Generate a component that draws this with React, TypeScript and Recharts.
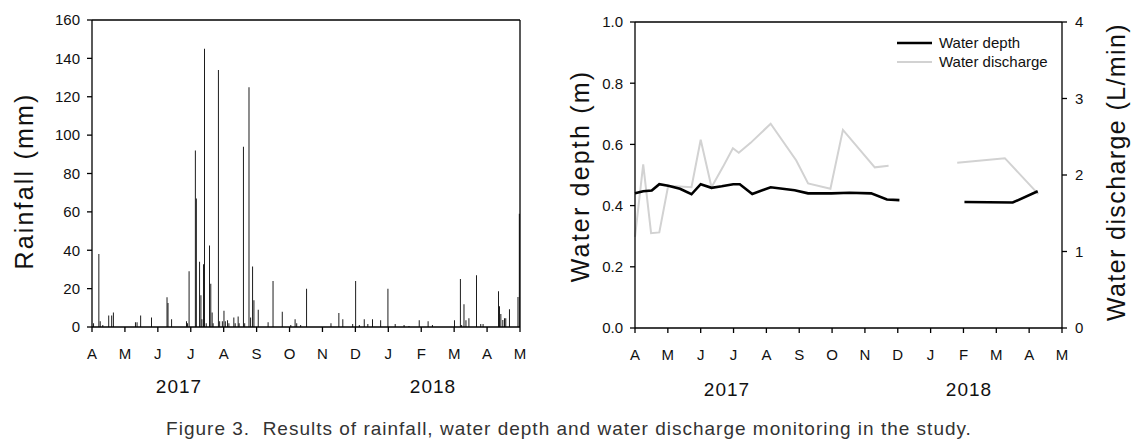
import React from 'react';
import {
  BarChart,
  Bar,
  LineChart,
  Line,
  XAxis,
  YAxis,
  ReferenceLine,
} from 'recharts';

// month index since Apr 2017 (fractional = day within month)
const monthLetters = ['A', 'M', 'J', 'J', 'A', 'S', 'O', 'N', 'D', 'J', 'F', 'M', 'A', 'M'];
const monthTicks = [0, 1, 2, 3, 4, 5, 6, 7, 8, 9, 10, 11, 12, 13];

// daily rainfall events
const rainMonth = [
  0.05, 0.21, 0.25, 0.33, 0.51, 0.6, 0.65, 1.32, 1.37, 1.48, 1.81, 2.28, 2.31, 2.42, 2.87, 2.9,
  2.95, 3.14, 3.17, 3.27, 3.31, 3.34, 3.39, 3.42, 3.47, 3.57, 3.61, 3.65, 3.68, 3.84, 3.88, 3.96,
  4.01, 4.05, 4.12, 4.16, 4.31, 4.35, 4.44, 4.47, 4.6, 4.64, 4.77, 4.82, 4.88, 4.92, 5.05, 5.35,
  5.5, 5.78, 6.04, 6.17, 6.22, 6.34, 6.52, 7.26, 7.5, 7.62, 7.92, 8.01, 8.12, 8.27, 8.38, 8.52,
  8.77, 8.99, 9.21, 9.48, 9.63, 9.94, 10.21, 10.34, 11.01, 11.19, 11.23, 11.3, 11.36, 11.45,
  11.68, 11.81, 11.88, 12.35, 12.38, 12.42, 12.48, 12.53, 12.57, 12.68, 12.94, 12.98,
];
const rainMm = [
  2, 38, 3, 1, 6, 6, 7.5, 2.5, 2.5, 6, 5, 15.5, 12.5, 4, 3, 2,
  29, 92, 67, 34, 16.5, 4, 32.7, 145, 2, 42.5, 22.5, 7.5, 2, 134, 3, 3,
  8.5, 3, 3.5, 2, 5, 2, 5.5, 2, 94, 2, 125, 5, 31.5, 14, 9, 2.5,
  24, 8, 1, 4, 2, 1, 20, 2, 7.3, 4, 1.5, 24, 1, 4, 1.5, 4,
  3.5, 20, 1.5, 1, 0.5, 3.5, 3, 1, 3.5, 25, 1, 11.8, 3.5, 4.5,
  27, 1.5, 1.5, 18.6, 10.8, 6.8, 3.7, 4.5, 4.5, 9.2, 15.6, 59,
];

// water depth (m)
const depthMonth = [
  0, 0.25, 0.51, 0.74, 1.01, 1.37, 1.72, 2.0, 2.33, 2.64, 2.99, 3.19, 3.57, 4.13, 4.86, 5.27,
  5.98, 6.53, 7.19, 7.67, 8.05, 9.0, 10.03, 11.5, 12.26,
];
const depthM = [
  0.44, 0.447, 0.449, 0.47, 0.465, 0.455, 0.437, 0.47, 0.458, 0.463, 0.47, 0.47, 0.438, 0.46,
  0.45, 0.44, 0.44, 0.442, 0.44, 0.42, 0.418, null, 0.412, 0.41, 0.447,
];

// water discharge (L/min)
const dischargeMonth = [
  0, 0.25, 0.49, 0.74, 1.01, 1.72, 2.0, 2.33, 2.67, 2.98, 3.16, 3.52, 4.13, 4.91, 5.27, 5.95,
  6.33, 7.3, 7.72, 9.0, 9.81, 11.26, 12.28,
];
const dischargeLmin = [
  1.19, 2.14, 1.24, 1.25, 1.86, 1.84, 2.46, 1.84, 2.1, 2.35, 2.29, 2.42, 2.67, 2.19, 1.89, 1.82,
  2.59, 2.1, 2.12, null, 2.16, 2.22, 1.75,
];

const rainData = rainMonth.map((m, i) => ({ m, rain: rainMm[i] }));
const depthData = depthMonth.map((m, i) => ({ m, depth: depthM[i] }));
const dischargeData = dischargeMonth.map((m, i) => ({ m, discharge: dischargeLmin[i] }));

const FONT = '"Liberation Sans", Arial, sans-serif';
const tickStyle = { fontSize: 15, fill: '#111', fontFamily: FONT };
const axisLine = { stroke: '#000', strokeWidth: 1.3 };

const legendItems = [
  { label: 'Water depth', color: '#000', width: 2.6 },
  { label: 'Water discharge', color: '#d2d2d2', width: 2 },
];

// legend sits inside the right plot, outside recharts so it does not shrink the plot
const LegendBox = () => (
  <div
    style={{
      position: 'absolute',
      left: 897,
      top: 33,
      fontFamily: FONT,
      fontSize: 15,
      color: '#111',
      lineHeight: '19px',
    }}
  >
    {legendItems.map((it) => (
      <div key={it.label} style={{ display: 'flex', alignItems: 'center' }}>
        <svg width={42} height={19}>
          <line x1={0} x2={35} y1={10} y2={10} stroke={it.color} strokeWidth={it.width} />
        </svg>
        <span>{it.label}</span>
      </div>
    ))}
  </div>
);

const abs = (extra: React.CSSProperties): React.CSSProperties => ({
  position: 'absolute',
  fontFamily: FONT,
  color: '#111',
  whiteSpace: 'pre',
  lineHeight: 1,
  ...extra,
});

const vLabel = (text: string, cx: number, cy: number, size: number, spacing: number) => (
  <div
    style={abs({
      left: cx,
      top: cy,
      fontSize: size,
      letterSpacing: spacing,
      transform: 'translate(-50%, -50%) rotate(-90deg)',
    })}
  >
    {text}
  </div>
);

const hLabel = (text: string, cx: number, cy: number, size: number, spacing: number, color = '#111') => (
  <div
    style={abs({
      left: cx,
      top: cy,
      fontSize: size,
      letterSpacing: spacing,
      color,
      transform: 'translate(-50%, -50%)',
    })}
  >
    {text}
  </div>
);

export default function App() {
  return (
    <div style={{ position: 'absolute', left: 0, top: 0, width: 1146, height: 445, background: '#fff' }}>
      <div style={{ position: 'absolute', left: 0, top: 0 }}>
        <BarChart width={560} height={400} data={rainData} margin={{ top: 20, right: 40, left: 32, bottom: 43 }}>
          <XAxis
            dataKey="m"
            type="number"
            domain={[0, 13]}
            ticks={monthTicks}
            tickFormatter={(v: number) => monthLetters[v]}
            tick={tickStyle}
            axisLine={axisLine}
            tickLine={axisLine}
            tickSize={5}
            tickMargin={16}
            height={30}
            interval={0}
          />
          <YAxis
            domain={[0, 160]}
            ticks={[0, 20, 40, 60, 80, 100, 120, 140, 160]}
            tick={tickStyle}
            axisLine={axisLine}
            tickLine={axisLine}
            tickSize={5}
            tickMargin={7}
            width={60}
            interval={0}
          />
          <ReferenceLine y={160} stroke="#000" strokeWidth={1.3} />
          <ReferenceLine x={13} stroke="#000" strokeWidth={1.3} />
          <Bar dataKey="rain" fill="#000" barSize={2} isAnimationActive={false} />
        </BarChart>
      </div>

      <div style={{ position: 'absolute', left: 560, top: 0 }}>
        <LineChart width={586} height={400} margin={{ top: 22, right: 44, left: 15, bottom: 42 }}>
          <XAxis
            dataKey="m"
            type="number"
            domain={[0, 13]}
            ticks={monthTicks}
            tickFormatter={(v: number) => monthLetters[v]}
            tick={tickStyle}
            axisLine={axisLine}
            tickLine={axisLine}
            tickSize={5}
            tickMargin={16}
            height={30}
            interval={0}
            allowDuplicatedCategory={false}
          />
          <YAxis
            yAxisId="l"
            domain={[0, 1]}
            ticks={[0, 0.2, 0.4, 0.6, 0.8, 1]}
            tickFormatter={(v: number) => v.toFixed(1)}
            tick={tickStyle}
            axisLine={axisLine}
            tickLine={axisLine}
            tickSize={5}
            tickMargin={7}
            width={60}
            interval={0}
          />
          <YAxis
            yAxisId="r"
            orientation="right"
            domain={[0, 4]}
            ticks={[0, 1, 2, 3, 4]}
            tick={tickStyle}
            axisLine={axisLine}
            tickLine={axisLine}
            tickSize={5}
            tickMargin={8}
            width={40}
            interval={0}
          />
          <ReferenceLine yAxisId="l" y={1} stroke="#000" strokeWidth={1.3} />
          <Line
            yAxisId="r"
            data={dischargeData}
            dataKey="discharge"
            stroke="#d2d2d2"
            strokeWidth={2}
            dot={false}
            activeDot={false}
            isAnimationActive={false}
          />
          <Line
            yAxisId="l"
            data={depthData}
            dataKey="depth"
            stroke="#000"
            strokeWidth={2.6}
            dot={false}
            activeDot={false}
            isAnimationActive={false}
          />
        </LineChart>
      </div>

      <LegendBox />

      {vLabel('Rainfall (mm)', 24, 181, 25, 2.2)}
      {vLabel('Water depth (m)', 580, 176, 25, 2.2)}
      {vLabel('Water discharge (L/min)', 1116, 172, 25, 1.4)}

      {hLabel('2017', 179, 386, 19, 1)}
      {hLabel('2018', 433, 386, 19, 1)}
      {hLabel('2017', 727, 389, 19, 1)}
      {hLabel('2018', 969, 389, 19, 1)}

      {hLabel('Figure 3.  Results of rainfall, water depth and water discharge monitoring in the study.', 569, 428, 19, 1, '#333')}
    </div>
  );
}
